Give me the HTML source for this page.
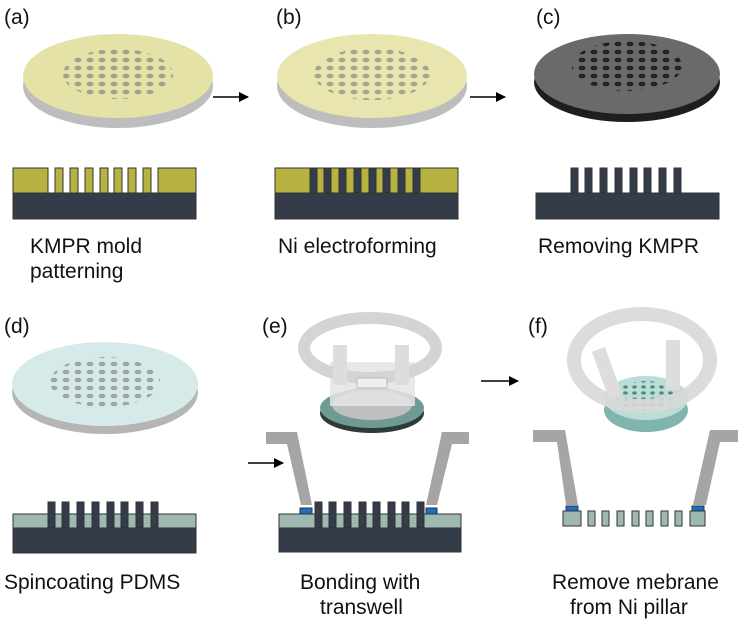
<!DOCTYPE html>
<html><head><style>
body{margin:0;background:#fff}
svg{display:block}
text{font-family:"Liberation Sans",sans-serif;font-size:21px;fill:#111}
</style></head><body>
<svg width="749" height="634" viewBox="0 0 749 634">
<defs>
<marker id="ah" markerWidth="10" markerHeight="10" refX="9" refY="5" orient="auto" markerUnits="userSpaceOnUse"><path d="M0,0L10,5L0,10z" fill="#000"/></marker>
<pattern id="dots" width="12" height="8" patternUnits="userSpaceOnUse"><ellipse cx="6" cy="4" rx="3.5" ry="2.3" fill="#888" opacity="0.7"/></pattern>
<pattern id="dotsD" width="12" height="8" patternUnits="userSpaceOnUse"><ellipse cx="6" cy="4" rx="3.5" ry="2.3" fill="#222"/></pattern>
<pattern id="dotsT" width="9" height="6" patternUnits="userSpaceOnUse"><ellipse cx="4.5" cy="3" rx="2.3" ry="1.6" fill="#4a8a80"/></pattern>
</defs>

<text x="4" y="24">(a)</text>
<text x="276" y="24">(b)</text>
<text x="536" y="24">(c)</text>
<text x="4" y="333">(d)</text>
<text x="262" y="333">(e)</text>
<text x="528" y="333">(f)</text>

<line x1="213" y1="97" x2="248" y2="97" stroke="#000" stroke-width="1.6" marker-end="url(#ah)"/>
<line x1="470" y1="97" x2="505" y2="97" stroke="#000" stroke-width="1.6" marker-end="url(#ah)"/>
<line x1="248" y1="463" x2="283" y2="463" stroke="#000" stroke-width="1.6" marker-end="url(#ah)"/>
<line x1="481" y1="381" x2="518" y2="381" stroke="#000" stroke-width="1.6" marker-end="url(#ah)"/>

<ellipse cx="118" cy="86" rx="95" ry="42" fill="#bdbdbd"/>
<ellipse cx="118" cy="76" rx="95" ry="42" fill="#e4e2a6"/>
<ellipse cx="118" cy="74" rx="55" ry="25" fill="url(#dots)"/>
<ellipse cx="372" cy="86" rx="95" ry="42" fill="#bdbdbd"/>
<ellipse cx="372" cy="76" rx="95" ry="42" fill="#e8e6ae"/>
<ellipse cx="372" cy="74" rx="58" ry="26" fill="url(#dots)"/>
<ellipse cx="627" cy="82" rx="93" ry="40" fill="#1e1e1e"/>
<ellipse cx="627" cy="74" rx="93" ry="40" fill="#6a6a6a"/>
<ellipse cx="627" cy="66" rx="55" ry="25" fill="url(#dotsD)"/>
<ellipse cx="105" cy="392" rx="93" ry="42" fill="#b5b5b5"/>
<ellipse cx="105" cy="384" rx="93" ry="42" fill="#d6ebe9"/>
<ellipse cx="105" cy="382" rx="55" ry="25" fill="url(#dots)"/>

<ellipse cx="372" cy="413" rx="52" ry="20" fill="#2c3a38"/>
<ellipse cx="372" cy="408" rx="52" ry="20" fill="#6f9a94"/>
<ellipse cx="372" cy="405" rx="40" ry="15" fill="#bfbfbf"/>
<rect x="330" y="362" width="85" height="44" fill="#e4e4e4" opacity="0.85"/>
<ellipse cx="370" cy="348" rx="66" ry="30" fill="none" stroke="#d4d4d4" stroke-width="12"/>
<rect x="333" y="345" width="14" height="40" fill="#ddd"/>
<rect x="395" y="345" width="14" height="40" fill="#ddd"/>
<rect x="357" y="378" width="30" height="10" fill="#eee" stroke="#bbb"/>
<ellipse cx="646" cy="410" rx="42" ry="22" fill="#7fb5ad"/>
<ellipse cx="646" cy="398" rx="42" ry="22" fill="#bcddd7"/>
<ellipse cx="646" cy="396" rx="30" ry="15" fill="url(#dotsT)"/>
<ellipse cx="642" cy="360" rx="68" ry="46" fill="none" stroke="#d8d8d8" stroke-width="14" opacity="0.9"/>
<rect x="600" y="348" width="14" height="50" fill="#ddd" transform="rotate(-20 607 373)"/>
<rect x="666" y="340" width="14" height="50" fill="#ddd"/>

<g stroke="#333" stroke-width="1">
<rect x="13" y="193" width="183" height="26" fill="#333c48"/>
<rect x="13" y="168" width="35" height="25" fill="#b7b342"/>
<rect x="158" y="168" width="38" height="25" fill="#b7b342"/>
<rect x="55" y="168" width="8" height="25" fill="#b7b342"/>
<rect x="70" y="168" width="8" height="25" fill="#b7b342"/>
<rect x="85" y="168" width="8" height="25" fill="#b7b342"/>
<rect x="100" y="168" width="8" height="25" fill="#b7b342"/>
<rect x="114" y="168" width="8" height="25" fill="#b7b342"/>
<rect x="128" y="168" width="8" height="25" fill="#b7b342"/>
<rect x="143" y="168" width="8" height="25" fill="#b7b342"/>
</g>
<g stroke="#333" stroke-width="1">
<rect x="275" y="193" width="183" height="26" fill="#333c48"/>
<rect x="275" y="168" width="183" height="25" fill="#b7b342"/>
<rect x="310" y="168" width="7" height="25" fill="#333c48"/>
<rect x="324" y="168" width="7" height="25" fill="#333c48"/>
<rect x="339" y="168" width="7" height="25" fill="#333c48"/>
<rect x="354" y="168" width="7" height="25" fill="#333c48"/>
<rect x="369" y="168" width="7" height="25" fill="#333c48"/>
<rect x="383" y="168" width="7" height="25" fill="#333c48"/>
<rect x="398" y="168" width="7" height="25" fill="#333c48"/>
<rect x="413" y="168" width="7" height="25" fill="#333c48"/>
</g>
<g stroke="#333" stroke-width="1" fill="#333c48">
<rect x="536" y="193" width="183" height="26"/>
<rect x="571" y="168" width="7" height="25"/>
<rect x="585" y="168" width="7" height="25"/>
<rect x="600" y="168" width="7" height="25"/>
<rect x="615" y="168" width="7" height="25"/>
<rect x="630" y="168" width="7" height="25"/>
<rect x="644" y="168" width="7" height="25"/>
<rect x="659" y="168" width="7" height="25"/>
<rect x="674" y="168" width="7" height="25"/>
</g>
<g stroke="#333" stroke-width="1">
<rect x="13" y="528" width="183" height="25" fill="#333c48"/>
<rect x="13" y="514" width="183" height="14" fill="#9fb8b2"/>
<g fill="#333c48">
<rect x="48" y="502" width="7" height="26"/><rect x="62" y="502" width="7" height="26"/>
<rect x="77" y="502" width="7" height="26"/><rect x="92" y="502" width="7" height="26"/>
<rect x="107" y="502" width="7" height="26"/><rect x="121" y="502" width="7" height="26"/>
<rect x="136" y="502" width="7" height="26"/><rect x="151" y="502" width="7" height="26"/>
</g></g>
<polygon points="266,432 297,432 312,505 301,505 287,444 266,444" fill="#a5a5a5"/>
<polygon points="442,432 469,432 469,444 452,444 437,505 426,505" fill="#a5a5a5"/>
<g stroke="#333" stroke-width="1">
<rect x="279" y="528" width="182" height="24" fill="#333c48"/>
<rect x="279" y="514" width="182" height="14" fill="#9fb8b2"/>
<rect x="300" y="508" width="12" height="6" fill="#1a6fc4"/>
<rect x="426" y="508" width="11" height="6" fill="#1a6fc4"/>
<g fill="#333c48">
<rect x="315" y="502" width="7" height="26"/><rect x="329" y="502" width="7" height="26"/>
<rect x="344" y="502" width="7" height="26"/><rect x="359" y="502" width="7" height="26"/>
<rect x="373" y="502" width="7" height="26"/><rect x="388" y="502" width="7" height="26"/>
<rect x="402" y="502" width="7" height="26"/><rect x="417" y="502" width="7" height="26"/>
</g></g>
<polygon points="533,430 565,430 578,505 566,505 557,442 533,442" fill="#a5a5a5"/>
<polygon points="710,430 738,430 738,442 720,442 706,505 693,505" fill="#a5a5a5"/>
<g stroke="#333" stroke-width="1" fill="#9fb8b2">
<rect x="566" y="506" width="12" height="5" fill="#1a6fc4"/>
<rect x="692" y="506" width="12" height="5" fill="#1a6fc4"/>
<rect x="563" y="511" width="18" height="15"/>
<rect x="588" y="511" width="7" height="15"/><rect x="602" y="511" width="7" height="15"/>
<rect x="617" y="511" width="7" height="15"/><rect x="632" y="511" width="7" height="15"/>
<rect x="646" y="511" width="7" height="15"/><rect x="661" y="511" width="7" height="15"/>
<rect x="675" y="511" width="7" height="15"/>
<rect x="690" y="511" width="15" height="15"/>
</g>

<text x="30" y="253">KMPR mold</text>
<text x="30" y="278">patterning</text>
<text x="278" y="253">Ni electroforming</text>
<text x="538" y="253">Removing KMPR</text>
<text x="4" y="589">Spincoating PDMS</text>
<text x="300" y="589">Bonding with</text>
<text x="320" y="614">transwell</text>
<text x="552" y="589">Remove mebrane</text>
<text x="570" y="614">from Ni pillar</text>
</svg>
</body></html>
